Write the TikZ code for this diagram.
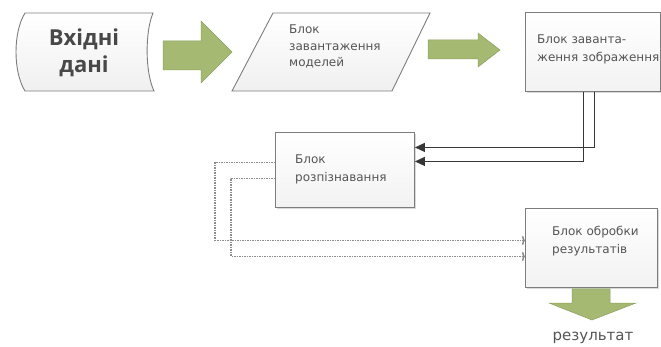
\documentclass[tikz,border=0pt]{standalone}
\usepackage{fontspec}
\setmainfont{DejaVu Sans}
\newfontfamily\bigfont{Open Sans}
\usetikzlibrary{arrows.meta,shadows,calc}
\definecolor{arrowgreen}{RGB}{165,185,115}
\definecolor{arrowedge}{RGB}{140,160,95}
\definecolor{boxedge}{RGB}{125,125,125}
\definecolor{txt}{RGB}{85,85,85}
\definecolor{linecol}{RGB}{55,55,55}
\tikzset{
  blockbox/.style={draw=boxedge, line width=0.9pt, top color=white, bottom color=gray!10,
    drop shadow={shadow xshift=1.5pt, shadow yshift=-1.5pt, opacity=0.3}, inner sep=0pt},
  shapefill/.style={draw=boxedge, line width=0.9pt, top color=white, bottom color=gray!12},
  blockarrow/.style={fill=arrowgreen, draw=arrowedge, line width=0.5pt},
  lbl/.style={font=\fontsize{12}{18}\selectfont, text=txt, align=left, inner sep=0pt, anchor=north west},
  feed/.style={draw=linecol, line width=1.3pt, -{Triangle[length=10pt,width=9pt]}},
  ret/.style={draw=gray!90, densely dotted, line width=1.5pt, -{To[length=3pt,width=9pt]}}
}
\begin{document}
\begin{tikzpicture}[x=1pt,y=-1pt]
\useasboundingbox (0,0) rectangle (661,347);
% input data shape
\path[shapefill] (25,13) -- (153,13) .. controls (145,32) and (145,72) .. (154,91)
  -- (25,91) .. controls (13,72) and (13,32) .. (25,13) -- cycle;
\node[font=\bigfont\bfseries\fontsize{22}{27}\selectfont, text=txt!85!black, align=center] (inp) at (84,53) {Вхідні\\дані};
% arrow 1
\path[blockarrow] (163,41) -- (201,41) -- (201,21) -- (232,52) -- (201,83) -- (201,70) -- (163,70) -- cycle;
% parallelogram
\path[shapefill] (273,13) -- (430,13) -- (392,91) -- (232,91) -- cycle;
\node[lbl, font=\fontsize{12}{16.5}\selectfont] (models) at (289,25) {Блок\\завантаження\\моделей};
% arrow 2
\path[blockarrow] (428,40) -- (478,40) -- (478,33) -- (500,50) -- (478,67) -- (478,59) -- (428,59) -- cycle;
% image loading box
\node[blockbox, minimum width=135pt, minimum height=79pt, anchor=north west] (load) at (525,12) {};
\node[lbl] (loadt) at (537,35) {Блок заванта-\\ження зображення};
% recognition box
\node[blockbox, minimum width=139pt, minimum height=75pt, anchor=north west] (recog) at (275,132) {};
\node[lbl] (recogt) at (295,155) {Блок\\розпізнавання};
% processing box
\node[blockbox, minimum width=132pt, minimum height=79pt, anchor=north west] (proc) at (525,208) {};
\node[lbl] (proct) at (552,226) {Блок обробки\\результатів};
% feed lines
\draw[feed] ([xshift=1.5pt]load.south) |- ([yshift=22.5pt]recog.east);
\draw[feed] ([xshift=-9.5pt]load.south) |- ([yshift=8.5pt]recog.east);
% return dotted lines
\draw[ret] ([yshift=7.5pt]recog.west) -- ++(-60,0) |- ([yshift=7.5pt]proc.west);
\draw[ret] ([yshift=-8.5pt]recog.west) -- ++(-44,0) |- ([yshift=-8.5pt]proc.west);
% down arrow
\path[blockarrow] (572,289) -- (610,289) -- (610,303) -- (636,303) -- (592,320) -- (549,303) -- (572,303) -- cycle;
\node[font=\fontsize{15}{18}\selectfont, text=txt, anchor=base] (res) at (593,340) {результат};
\end{tikzpicture}
\end{document}
